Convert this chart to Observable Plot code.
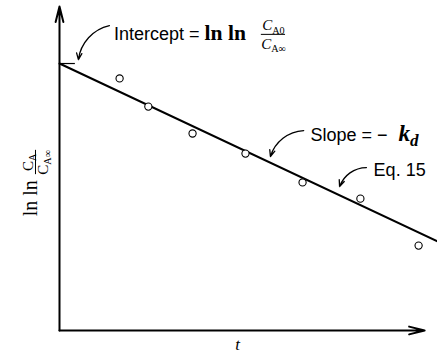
<!DOCTYPE html>
<html><head><meta charset="utf-8">
<script src="https://cdn.jsdelivr.net/npm/d3@7"></script>
<script src="https://cdn.jsdelivr.net/npm/@observablehq/plot@0.6"></script>
<style>body{margin:0;background:#fff}</style>
</head><body><div id="chart"></div>
<script>
// measured data (t in arbitrary units, ln ln(CA/CA∞) in arbitrary units)
const t = [1.59, 2.35, 3.52, 4.92, 6.43, 7.96, 9.50];
const lnln = [7.78, 6.91, 6.08, 5.46, 4.57, 4.07, 2.62];
// fitted line (Eq. 15)
const fitT = [0, 10];
const fitLn = [8.24, 2.75];
// axis extents
const xAxisEnd = 9.66;
const yAxisEnd = 10;
// annotations
const noteText = ["Intercept = *{ln ln}", "Slope = − /{k}%{d}", "Eq. 15"];
const noteT = [1.44, 6.64, 8.31];
const noteY = [8.98, 5.86, 4.78];
const arrowFromT = [1.32, 6.46, 8.12];
const arrowFromY = [9.41, 6.17, 5.03];
const arrowToT = [0.50, 5.58, 7.41];
const arrowToY = [8.36, 5.37, 4.44];
const interceptTickEnd = 0.42;
// intercept fraction
const fracNum = "C_{A0}", fracDen = "C_{A∞}";
const fracT = 5.66, fracNumY = 9.26, fracDenY = 8.70, fracBarY = 9.14, fracBarT = [5.34, 5.98];
// y-axis label
const yLabelMain = "ln ln", yLabelNum = "C_{A}", yLabelDen = "C_{A∞}";
const yLabelY = 4.08, yFracY = 5.19, yFracBarT = -0.635, yFracBarY = [4.81, 5.56];
const xLabel = "t", xLabelT = 4.71;

const sans = "'Liberation Sans', Arial, sans-serif";
const serif = "'Liberation Serif', 'Times New Roman', serif";

const pts = t.map((x, i) => ({t: x, v: lnln[i]}));
const fit = fitT.map((x, i) => ({t: x, v: fitLn[i]}));
const idx = d3.range(noteText.length);

const chart = Plot.plot({
  width: 437, height: 355,
  marginLeft: 59, marginRight: 0, marginTop: 6, marginBottom: 25,
  x: {domain: [0, 10], axis: null},
  y: {domain: [0, 10], axis: null},
  style: {background: "white", color: "black", overflow: "visible"},
  marks: [
    Plot.arrow([0], {x1: () => 0, y1: () => 0, x2: () => 0, y2: () => yAxisEnd, stroke: "black", strokeWidth: 2, headLength: 12, headAngle: 28}),
    Plot.arrow([0], {x1: () => 0, y1: () => 0, x2: () => xAxisEnd, y2: () => 0, stroke: "black", strokeWidth: 2, headLength: 12, headAngle: 28}),
    Plot.line(fit, {x: "t", y: "v", stroke: "black", strokeWidth: 2}),
    Plot.ruleY([fitLn[0]], {x1: 0, x2: interceptTickEnd, stroke: "black", strokeWidth: 1.2}),
    Plot.dot(pts, {x: "t", y: "v", r: 3.6, fill: "white", stroke: "black", strokeWidth: 1.1}),
    Plot.arrow(idx, {x1: i => arrowFromT[i], y1: i => arrowFromY[i], x2: i => arrowToT[i], y2: i => arrowToY[i], bend: -35, stroke: "black", strokeWidth: 1.3, headLength: 8, headAngle: 45}),
    Plot.text(idx, {x: i => noteT[i], y: i => noteY[i], text: i => noteText[i], textAnchor: "start", lineAnchor: "bottom", fontSize: 18, fontFamily: sans, fill: "black"}),
    // intercept fraction
    Plot.text([fracNum], {x: () => fracT, y: () => fracNumY, text: d => d, textAnchor: "middle", lineAnchor: "bottom", fontSize: 15, fontFamily: serif, fontStyle: "italic", fill: "black"}),
    Plot.text([fracDen], {x: () => fracT, y: () => fracDenY, text: d => d, textAnchor: "middle", lineAnchor: "bottom", fontSize: 15, fontFamily: serif, fontStyle: "italic", fill: "black"}),
    Plot.ruleY([fracBarY], {x1: fracBarT[0], x2: fracBarT[1], stroke: "black", strokeWidth: 1}),
    // y label
    Plot.text([yLabelMain], {frameAnchor: "left", y: () => yLabelY, text: d => d, rotate: -90, dx: -23, textAnchor: "middle", lineAnchor: "bottom", fontSize: 20, fontFamily: serif, fill: "black"}),
    Plot.text([yLabelNum], {frameAnchor: "left", y: () => yFracY, text: d => d, rotate: -90, dx: -27, textAnchor: "middle", lineAnchor: "bottom", fontSize: 15, fontFamily: serif, fill: "black"}),
    Plot.text([yLabelDen], {frameAnchor: "left", y: () => yFracY, text: d => d, rotate: -90, dx: -12, textAnchor: "middle", lineAnchor: "bottom", fontSize: 15, fontFamily: serif, fill: "black"}),
    Plot.ruleX([yFracBarT], {y1: yFracBarY[0], y2: yFracBarY[1], stroke: "black", strokeWidth: 1}),
    // x label
    Plot.text([xLabel], {x: () => xLabelT, frameAnchor: "bottom", text: d => d, dy: 19, textAnchor: "middle", lineAnchor: "bottom", fontSize: 17, fontFamily: serif, fontStyle: "italic", fill: "black"})
  ]
});

// rich text: *{} serif bold, /{} serif bold italic, _{} upright subscript, %{} italic serif subscript
d3.select(chart).selectAll("text").each(function() {
  const s = this.textContent;
  if (!/[*\/_%]\{/.test(s)) return;
  const el = d3.select(this);
  el.text(null);
  const re = /([*\/_%])\{([^}]*)\}|([^{}]+?)(?=[*\/_%]\{|$)/g;
  let m;
  while ((m = re.exec(s)) !== null) {
    if (m[0] === "") { re.lastIndex++; continue; }
    if (m[3] !== undefined) { el.append("tspan").text(m[3]); continue; }
    const ts = el.append("tspan").text(m[2]);
    if (m[1] === "*") ts.attr("font-family", serif).attr("font-weight", "bold").attr("font-size", "1.2em");
    else if (m[1] === "/") ts.attr("font-family", serif).attr("font-weight", "bold").attr("font-style", "italic").attr("font-size", "1.3em").attr("dx", "0.25em");
    else if (m[1] === "_") ts.attr("font-size", "0.68em").attr("font-style", "normal").attr("dy", "0.3em");
    else if (m[1] === "%") ts.attr("font-family", serif).attr("font-style", "italic").attr("font-weight", "bold").attr("font-size", "0.95em").attr("dy", "0.3em");
  }
});

document.getElementById("chart").appendChild(chart);
</script>
</body></html>
